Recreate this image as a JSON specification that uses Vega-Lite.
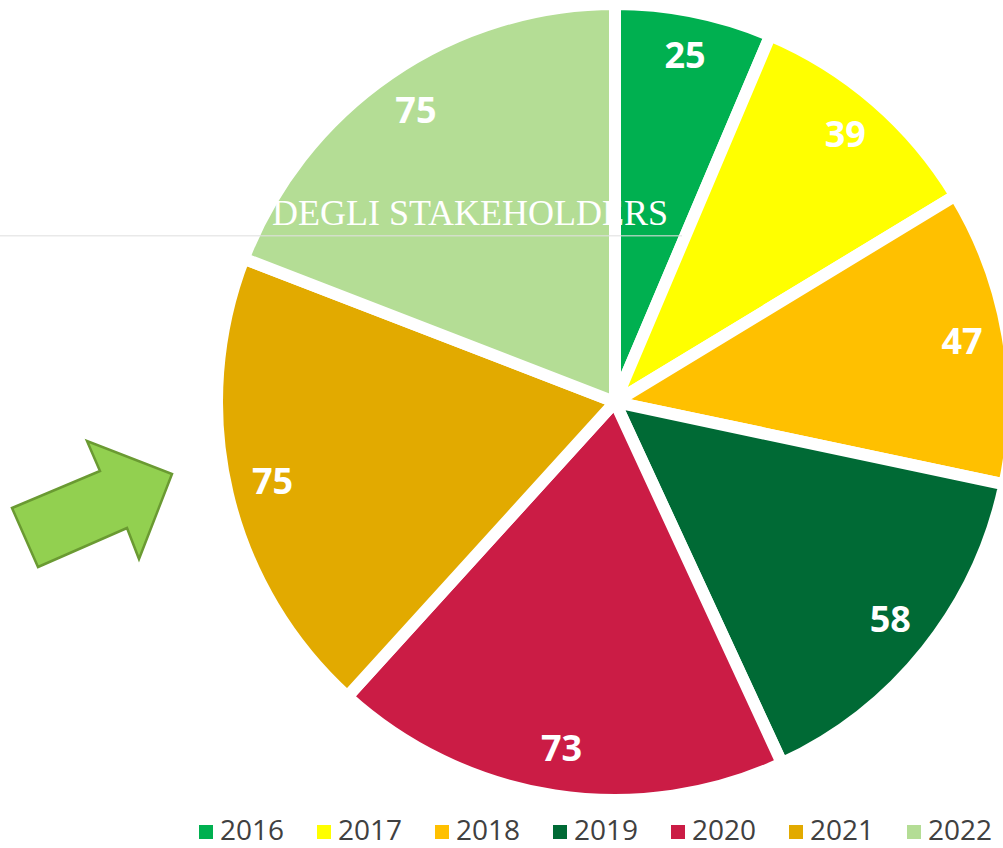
{
  "$schema": "https://vega.github.io/schema/vega-lite/v6.json",
  "autosize": {"type": "none"},
  "width": 776,
  "height": 784,
  "padding": {"left": 227, "top": 10, "right": 0, "bottom": 54},
  "background": "white",
  "config": {"view": {"stroke": null}},
  "title": {
    "text": "DEGLI STAKEHOLDERS",
    "anchor": "start",
    "frame": "group",
    "orient": "top",
    "offset": 0,
    "dx": 45,
    "dy": 377,
    "baseline": "alphabetic",
    "color": "white",
    "font": "Liberation Serif",
    "fontSize": 36,
    "fontWeight": "normal"
  },
  "layer": [
    {
      "data": {"name": "pie", "values": [
        {"year": "2016", "value": 25},
        {"year": "2017", "value": 39},
        {"year": "2018", "value": 47},
        {"year": "2019", "value": 58},
        {"year": "2020", "value": 73},
        {"year": "2021", "value": 75},
        {"year": "2022", "value": 75}
      ]},
      "layer": [
        {
          "mark": {"type": "arc", "outerRadius": 398, "stroke": "white", "strokeWidth": 12, "strokeJoin": "miter", "strokeMiterLimit": 20},
          "encoding": {
            "theta": {"field": "value", "type": "quantitative", "stack": true},
            "color": {
              "field": "year",
              "type": "nominal",
              "scale": {
                "domain": ["2016", "2017", "2018", "2019", "2020", "2021", "2022"],
                "range": ["#00B050", "#FFFF00", "#FFC000", "#006A35", "#CB1C45", "#E2AA00", "#B4DD95"]
              },
              "legend": {
                "title": null,
                "orient": "none",
                "direction": "horizontal",
                "legendX": -35,
                "legendY": 808,
                "padding": 0,
                "symbolType": "square",
                "symbolSize": 196,
                "symbolStrokeWidth": 0,
                "symbolOpacity": 1,
                "labelFont": "Open Sans",
                "labelFontSize": 28,
                "labelColor": "#404040",
                "labelOffset": 0,
                "columnPadding": 25,
                "labelLimit": 0
              }
            }
          }
        },
        {
          "mark": {"type": "text", "radius": 352, "font": "Open Sans", "fontWeight": "bold", "fontSize": 36, "align": "center", "baseline": "middle"},
          "encoding": {
            "theta": {"field": "value", "type": "quantitative", "stack": true},
            "detail": {"field": "year", "type": "nominal"},
            "text": {"field": "value", "type": "quantitative"},
            "color": {"value": "white"}
          }
        }
      ]
    },
    {
      "data": {"values": [{"item": "arrow"}]},
      "layer": [
        {
          "mark": {
            "type": "point",
            "shape": "M-5.77,1.65L-6.03,1.06L-5.15,0.69L-5.28,0.39L-4.43,0.72L-4.76,1.57L-4.88,1.26Z",
            "size": 40000,
            "filled": true,
            "fill": "#92D050",
            "stroke": "#6A9A32",
            "strokeWidth": 2.5,
            "opacity": 1
          },
          "encoding": {}
        },
        {
          "mark": {
            "type": "point",
            "shape": "M-6.2,-1.67L0.67,-1.67L0.67,-1.655L-6.2,-1.655Z",
            "size": 40000,
            "filled": true,
            "fill": "#E0E0E0",
            "strokeWidth": 0,
            "opacity": 0.7
          },
          "encoding": {}
        }
      ]
    }
  ]
}
